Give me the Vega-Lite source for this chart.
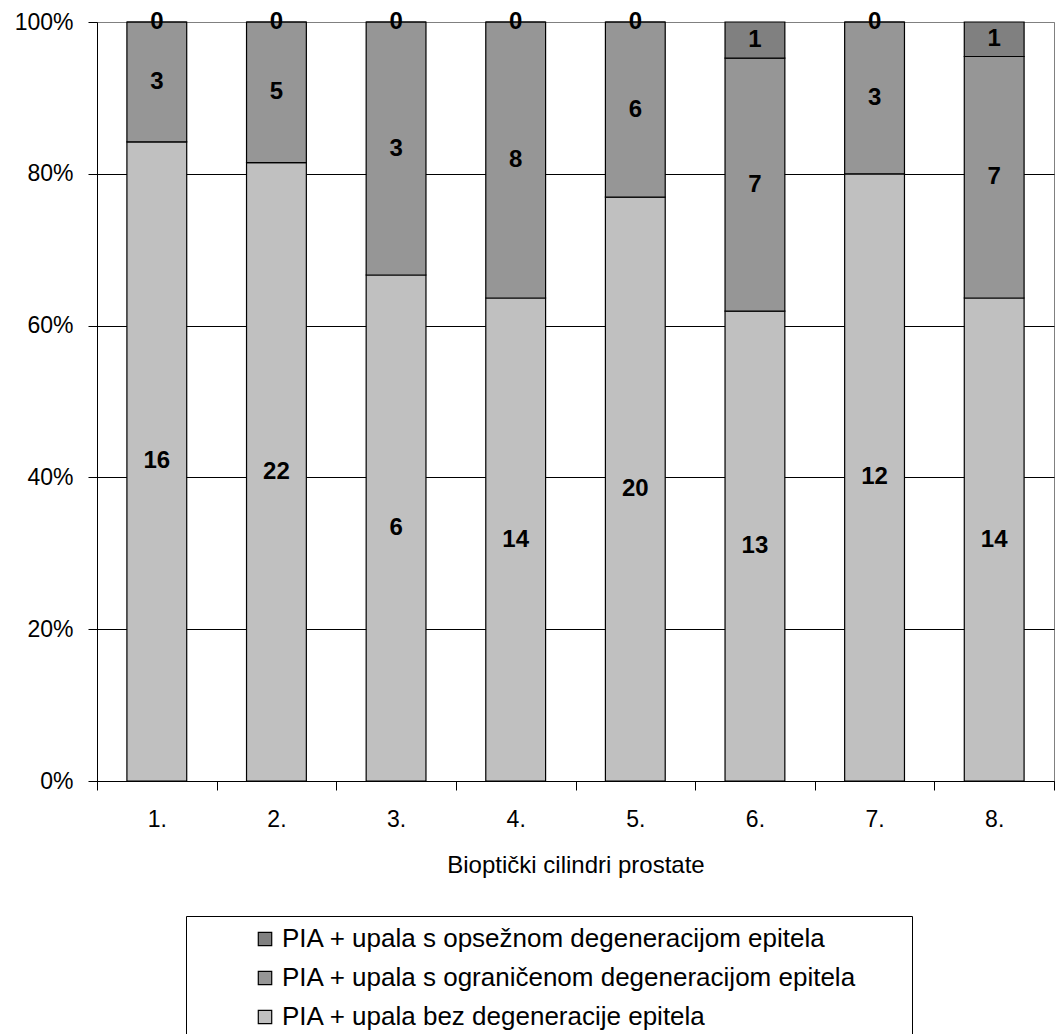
{
  "$schema": "https://vega.github.io/schema/vega-lite/v6.json",
  "width": 957,
  "height": 759,
  "autosize": "none",
  "padding": {"left": 97, "top": 22, "right": 2, "bottom": 253},
  "background": "white",
  "config": {
    "font": "Liberation Sans",
    "view": {"stroke": "#808080", "strokeWidth": 1}
  },
  "data": {
    "values": [
      {"cat": "1.", "grp": "PIA + upala bez degeneracije epitela", "ord": 1, "n": 16},
      {"cat": "1.", "grp": "PIA + upala s ograničenom degeneracijom epitela", "ord": 2, "n": 3},
      {"cat": "1.", "grp": "PIA + upala s opsežnom degeneracijom epitela", "ord": 3, "n": 0},
      {"cat": "2.", "grp": "PIA + upala bez degeneracije epitela", "ord": 1, "n": 22},
      {"cat": "2.", "grp": "PIA + upala s ograničenom degeneracijom epitela", "ord": 2, "n": 5},
      {"cat": "2.", "grp": "PIA + upala s opsežnom degeneracijom epitela", "ord": 3, "n": 0},
      {"cat": "3.", "grp": "PIA + upala bez degeneracije epitela", "ord": 1, "n": 6},
      {"cat": "3.", "grp": "PIA + upala s ograničenom degeneracijom epitela", "ord": 2, "n": 3},
      {"cat": "3.", "grp": "PIA + upala s opsežnom degeneracijom epitela", "ord": 3, "n": 0},
      {"cat": "4.", "grp": "PIA + upala bez degeneracije epitela", "ord": 1, "n": 14},
      {"cat": "4.", "grp": "PIA + upala s ograničenom degeneracijom epitela", "ord": 2, "n": 8},
      {"cat": "4.", "grp": "PIA + upala s opsežnom degeneracijom epitela", "ord": 3, "n": 0},
      {"cat": "5.", "grp": "PIA + upala bez degeneracije epitela", "ord": 1, "n": 20},
      {"cat": "5.", "grp": "PIA + upala s ograničenom degeneracijom epitela", "ord": 2, "n": 6},
      {"cat": "5.", "grp": "PIA + upala s opsežnom degeneracijom epitela", "ord": 3, "n": 0},
      {"cat": "6.", "grp": "PIA + upala bez degeneracije epitela", "ord": 1, "n": 13},
      {"cat": "6.", "grp": "PIA + upala s ograničenom degeneracijom epitela", "ord": 2, "n": 7},
      {"cat": "6.", "grp": "PIA + upala s opsežnom degeneracijom epitela", "ord": 3, "n": 1},
      {"cat": "7.", "grp": "PIA + upala bez degeneracije epitela", "ord": 1, "n": 12},
      {"cat": "7.", "grp": "PIA + upala s ograničenom degeneracijom epitela", "ord": 2, "n": 3},
      {"cat": "7.", "grp": "PIA + upala s opsežnom degeneracijom epitela", "ord": 3, "n": 0},
      {"cat": "8.", "grp": "PIA + upala bez degeneracije epitela", "ord": 1, "n": 14},
      {"cat": "8.", "grp": "PIA + upala s ograničenom degeneracijom epitela", "ord": 2, "n": 7},
      {"cat": "8.", "grp": "PIA + upala s opsežnom degeneracijom epitela", "ord": 3, "n": 1}
    ]
  },
  "transform": [
    {"stack": "n", "groupby": ["cat"], "sort": [{"field": "ord", "order": "ascending"}], "offset": "normalize", "as": ["y0", "y1"]},
    {"calculate": "(datum.y0 + datum.y1) / 2", "as": "mid"}
  ],
  "encoding": {
    "x": {
      "field": "cat",
      "type": "nominal",
      "sort": null,
      "scale": {"paddingInner": 0, "paddingOuter": 0},
      "axis": {
        "title": "Bioptički cilindri prostate",
        "labelAngle": 0,
        "labelFontSize": 23,
        "labelColor": "black",
        "labelPadding": 18,
        "tickBand": "extent",
        "tickSize": 9,
        "tickColor": "black",
        "domainColor": "black",
        "grid": false,
        "titleFontSize": 24,
        "titleFontWeight": "normal",
        "titleColor": "black",
        "titlePadding": 22
      }
    }
  },
  "layer": [
    {
      "mark": {"type": "bar", "stroke": "black", "strokeWidth": 1.2, "width": {"band": 0.5}},
      "encoding": {
        "y": {
          "field": "y0",
          "type": "quantitative",
          "scale": {"domain": [0, 1], "nice": false},
          "axis": {
            "title": null,
            "format": ".0%",
            "values": [0, 0.2, 0.4, 0.6, 0.8, 1],
            "labelFontSize": 23,
            "labelColor": "black",
            "labelPadding": 15,
            "tickSize": 9,
            "tickColor": "black",
            "domainColor": "black",
            "grid": true,
            "gridColor": {"condition": {"test": "datum.value >= 1", "value": "#808080"}, "value": "black"},
            "gridOpacity": 1,
            "gridWidth": 1
          }
        },
        "y2": {"field": "y1"},
        "color": {
          "field": "grp",
          "type": "nominal",
          "scale": {
            "domain": [
              "PIA + upala s opsežnom degeneracijom epitela",
              "PIA + upala s ograničenom degeneracijom epitela",
              "PIA + upala bez degeneracije epitela"
            ],
            "range": ["#808080", "#969696", "#C0C0C0"]
          },
          "legend": {
            "title": "\u2003",
            "titleOrient": "right",
            "titlePadding": 45,
            "titleFontSize": 10,
            "orient": "none",
            "legendX": 89,
            "legendY": 894,
            "direction": "vertical",
            "padding": 10,
            "strokeColor": "black",
            "symbolType": "square",
            "symbolSize": 180,
            "symbolOffset": 56,
            "symbolStrokeColor": "black",
            "symbolStrokeWidth": 1.2,
            "symbolOpacity": 1,
            "labelFontSize": 26,
            "labelColor": "black",
            "labelOffset": 4,
            "labelLimit": 0,
            "rowPadding": 13
          }
        }
      }
    },
    {
      "mark": {"type": "text", "fontWeight": "bold", "fontSize": 24, "color": "black", "baseline": "middle", "align": "center"},
      "encoding": {
        "y": {"field": "mid", "type": "quantitative"},
        "text": {"field": "n", "type": "quantitative"}
      }
    }
  ]
}
